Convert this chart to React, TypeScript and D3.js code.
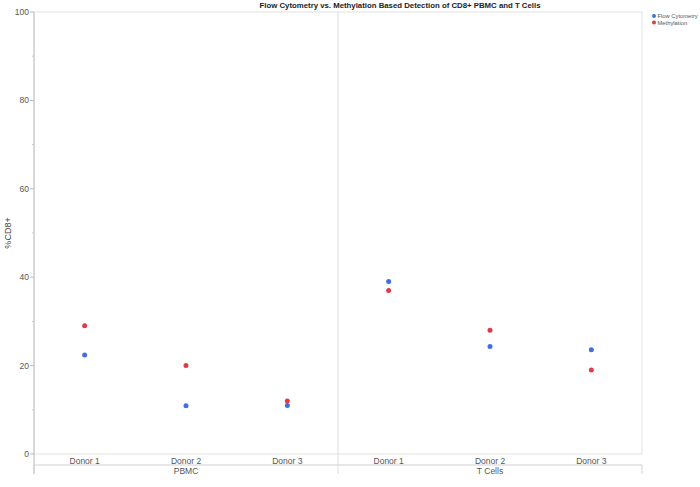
import { useRef, useEffect } from "react";
import * as d3 from "d3";

const groups = ["PBMC", "T Cells"];
const donors = ["Donor 1", "Donor 2", "Donor 3"];
const flowCytometry = [22.4, 10.9, 11.0, 39.0, 24.3, 23.6];
const methylation = [29.0, 20.0, 12.0, 37.0, 28.0, 19.0];
const yTicks = [0, 20, 40, 60, 80, 100];
const yMinorTicks = [10, 30, 50, 70, 90];

const seriesColor = {
  flow: "#3f6fe0",
  meth: "#dc3d4b",
};

const width = 700;
const height = 487;
const margin = { top: 12, right: 58, bottom: 33, left: 34 };
const font = "'Liberation Sans', Arial, sans-serif";

export default function App() {
  const svgRef = useRef<SVGSVGElement>(null);

  useEffect(() => {
    if (!svgRef.current) return;
    const svg = d3.select(svgRef.current);
    svg.selectAll("*").remove();

    const innerW = width - margin.left - margin.right;
    const innerH = height - margin.top - margin.bottom;

    const keys = groups.flatMap((g) => donors.map((d) => `${g}|${d}`));
    const x = d3.scaleBand().domain(keys).range([0, innerW]);
    const xg = d3.scaleBand().domain(groups).range([0, innerW]);
    const y = d3.scaleLinear().domain([0, 100]).range([innerH, 0]);

    const g = svg
      .append("g")
      .attr("transform", `translate(${margin.left},${margin.top})`);

    // Frame
    g.append("rect")
      .attr("x", 0)
      .attr("y", 0)
      .attr("width", innerW)
      .attr("height", innerH)
      .attr("fill", "none")
      .attr("stroke", "#e2e2e2")
      .attr("stroke-width", 1);

    // Group divider
    g.append("line")
      .attr("x1", xg("T Cells")!)
      .attr("x2", xg("T Cells")!)
      .attr("y1", 0)
      .attr("y2", innerH + 20)
      .attr("stroke", "#dcdcdc")
      .attr("stroke-width", 1);

    // Title
    svg
      .append("text")
      .attr("x", 400)
      .attr("y", 8)
      .attr("text-anchor", "middle")
      .attr("font-family", font)
      .attr("font-size", 7.8)
      .attr("font-weight", "bold")
      .attr("fill", "#222")
      .text("Flow Cytometry vs. Methylation Based Detection of CD8+ PBMC and T Cells");

    // Y axis
    g.append("line")
      .attr("x1", 0)
      .attr("x2", 0)
      .attr("y1", 0)
      .attr("y2", innerH + 20)
      .attr("stroke", "#d2d2d2")
      .attr("stroke-width", 1.6);

    g.selectAll("line.ytick")
      .data(yTicks)
      .join("line")
      .attr("class", "ytick")
      .attr("x1", -4)
      .attr("x2", 0)
      .attr("y1", (d) => y(d))
      .attr("y2", (d) => y(d))
      .attr("stroke", "#bbb");

    g.selectAll("line.yminor")
      .data(yMinorTicks)
      .join("line")
      .attr("class", "yminor")
      .attr("x1", -2)
      .attr("x2", 0)
      .attr("y1", (d) => y(d))
      .attr("y2", (d) => y(d))
      .attr("stroke", "#ccc");

    g.selectAll("text.ylab")
      .data(yTicks)
      .join("text")
      .attr("class", "ylab")
      .attr("x", -5)
      .attr("y", (d) => y(d))
      .attr("dy", "0.35em")
      .attr("text-anchor", "end")
      .attr("font-family", font)
      .attr("font-size", 8.5)
      .attr("fill", "#555")
      .text((d) => d);

    svg
      .append("text")
      .attr("transform", `translate(11,${margin.top + innerH / 2}) rotate(-90)`)
      .attr("text-anchor", "middle")
      .attr("font-family", font)
      .attr("font-size", 9)
      .attr("fill", "#444")
      .text("%CD8+");

    // X axis rows
    g.append("line")
      .attr("x1", 0)
      .attr("x2", innerW)
      .attr("y1", innerH + 11)
      .attr("y2", innerH + 11)
      .attr("stroke", "#d2d2d2")
      .attr("stroke-width", 1.2);

    g.selectAll("line.gsep")
      .data([0, innerW])
      .join("line")
      .attr("class", "gsep")
      .attr("x1", (d) => d)
      .attr("x2", (d) => d)
      .attr("y1", innerH + 11)
      .attr("y2", innerH + 20)
      .attr("stroke", "#d2d2d2");

    g.selectAll("text.xlab")
      .data(keys)
      .join("text")
      .attr("class", "xlab")
      .attr("x", (d) => x(d)! + x.bandwidth() / 2)
      .attr("y", innerH + 9.5)
      .attr("text-anchor", "middle")
      .attr("font-family", font)
      .attr("font-size", 8.5)
      .attr("fill", "#555")
      .text((d) => d.split("|")[1]);

    g.selectAll("text.glab")
      .data(groups)
      .join("text")
      .attr("class", "glab")
      .attr("x", (d) => xg(d)! + xg.bandwidth() / 2)
      .attr("y", innerH + 20)
      .attr("text-anchor", "middle")
      .attr("font-family", font)
      .attr("font-size", 8.5)
      .attr("fill", "#555")
      .text((d) => d);

    // Points
    const series = [
      { values: flowCytometry, color: seriesColor.flow },
      { values: methylation, color: seriesColor.meth },
    ];
    for (const s of series) {
      g.append("g")
        .selectAll("circle")
        .data(s.values)
        .join("circle")
        .attr("cx", (_, i) => x(keys[i])! + x.bandwidth() / 2)
        .attr("cy", (d) => y(d))
        .attr("r", 2.5)
        .attr("fill", s.color);
    }

    // Legend
    const legend = svg
      .append("g")
      .attr("transform", `translate(${margin.left + innerW + 12},16)`);
    const items = [
      { label: "Flow Cytometry", color: seriesColor.flow },
      { label: "Methylation", color: seriesColor.meth },
    ];
    items.forEach((it, i) => {
      legend
        .append("circle")
        .attr("cx", 0)
        .attr("cy", i * 6.5)
        .attr("r", 2)
        .attr("fill", it.color);
      legend
        .append("text")
        .attr("x", 3.5)
        .attr("y", i * 6.5)
        .attr("dy", "0.35em")
        .attr("font-family", font)
        .attr("font-size", 5.8)
        .attr("fill", "#555")
        .text(it.label);
    });
  }, []);

  return (
    <svg
      ref={svgRef}
      width={width}
      height={height}
      viewBox={`0 0 ${width} ${height}`}
      style={{ position: "absolute", left: 0, top: 0, background: "#fff" }}
    />
  );
}
